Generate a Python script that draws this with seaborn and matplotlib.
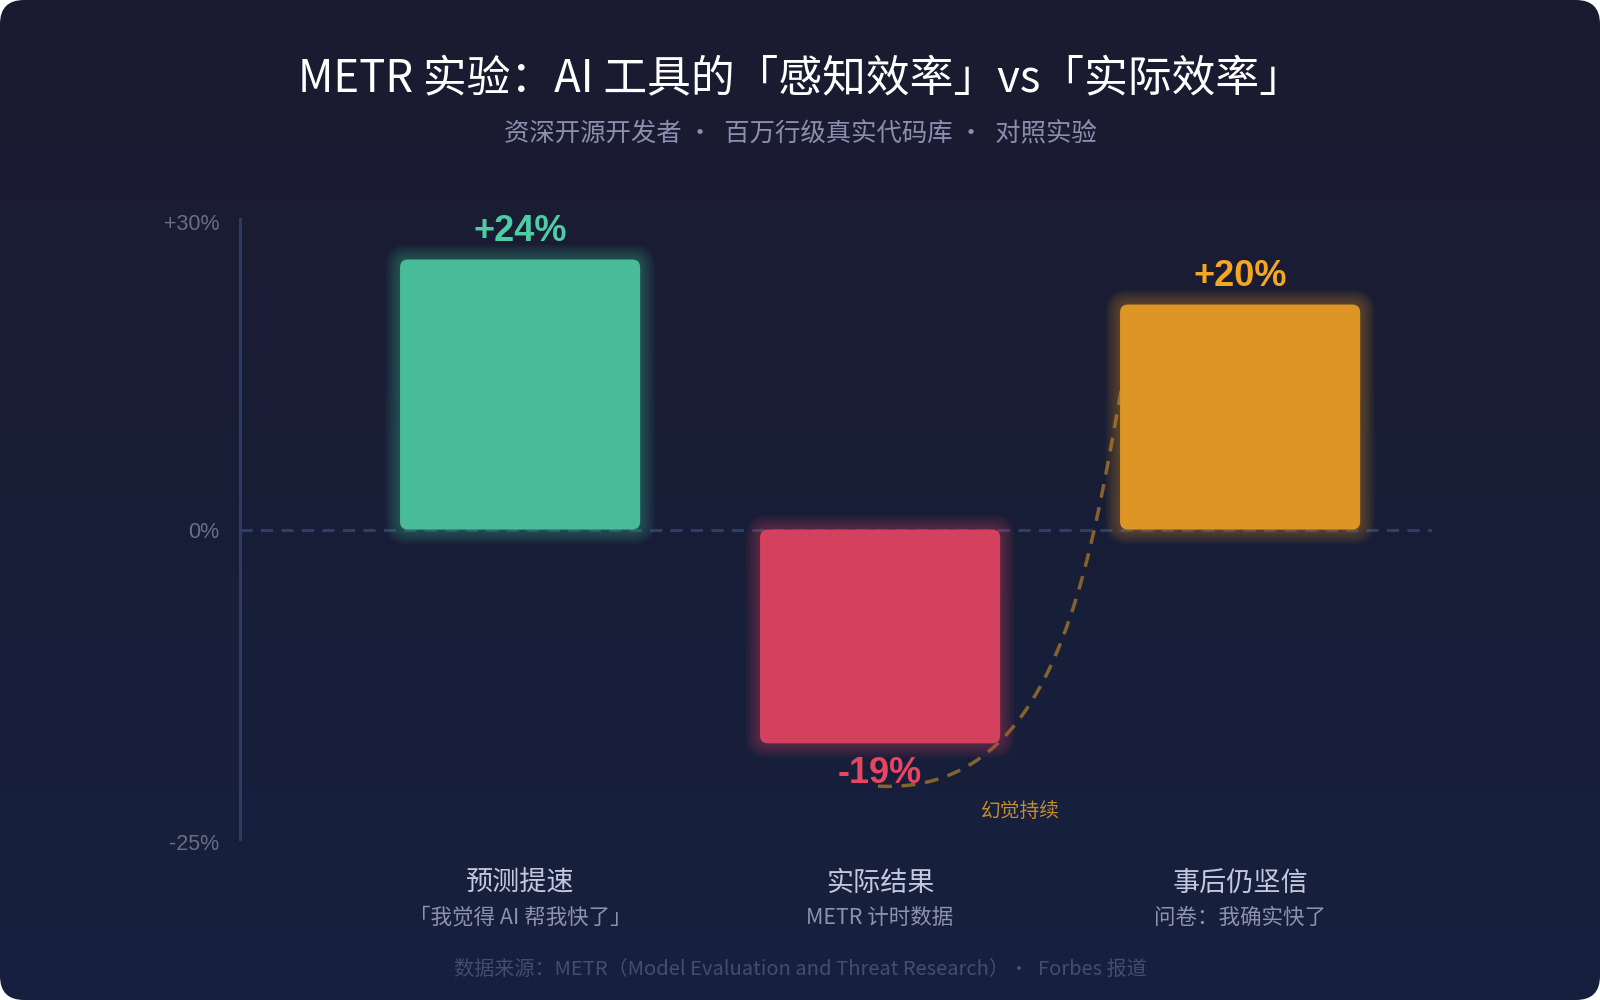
import numpy as np
import matplotlib.pyplot as plt
import seaborn as sns
from matplotlib.patches import FancyBboxPatch, BoxStyle
from matplotlib import transforms

# 数据
categories = ['预测提速', '实际结果', '事后仍坚信']
sublabels = ['「我觉得 AI 帮我快了」', 'METR 计时数据', '问卷：我确实快了']
values = [24, -19, 20]
value_labels = ['+24%', '-19%', '+20%']
ytick_labels = ['+30%', '0%', '-25%']

bar_colors = ['#48bb98', '#d4415e', '#dd9525']
text_colors = ['#4ecca3', '#e94560', '#f5a623']

title = 'METR 实验：AI 工具的「感知效率」vs「实际效率」'
subtitle = '资深开源开发者 ·  百万行级真实代码库 ·  对照实验'
footer = '数据来源：METR（Model Evaluation and Threat Research）·  Forbes 报道'
note = '幻觉持续'

sns.set_theme(style='white')
plt.rcParams['font.family'] = ['Noto Sans CJK SC', 'DejaVu Sans']

W, H = 1600, 1000
fig = plt.figure(figsize=(16, 10), dpi=100)
fig.patch.set_facecolor('white')

# 圆角渐变背景
bg = fig.add_axes([0, 0, 1, 1], zorder=-10)
bg.set_axis_off()
top = np.array([0x1b, 0x1b, 0x30]) / 255
bot = np.array([0x16, 0x20, 0x3e]) / 255
t = np.linspace(0, 1, 256)[:, None, None]
grad = top * (1 - t) + bot * t
im = bg.imshow(grad, extent=(0, 1, 0, 1), aspect='auto', origin='upper')
clip = FancyBboxPatch((0, 0), 1, 1, boxstyle=BoxStyle.Round(pad=0, rounding_size=24 / W),
                      mutation_aspect=W / H, transform=bg.transAxes, fc='none', ec='none')
bg.add_patch(clip)
im.set_clip_path(clip)
bg.set_xlim(0, 1)
bg.set_ylim(0, 1)

# 主图
ax = fig.add_axes([0.15, 0.161, 0.745, 0.62])
ax.set_facecolor('none')
sns.barplot(x=categories, y=values, hue=categories, palette=bar_colors, width=0.667,
            saturation=1, legend=False, ax=ax)

xlim = (-0.778, 2.533)
ylim = (-27.5, 27.6)
ax.set_xlim(*xlim)
ax.set_ylim(*ylim)
px_x = 0.745 * W / (xlim[1] - xlim[0])   # 每单位像素
px_y = 0.62 * H / (ylim[1] - ylim[0])
aspect = px_x / px_y

# 把柱子换成带光晕的圆角矩形
for bar, color in zip(list(ax.patches), bar_colors):
    x0, w = bar.get_x(), bar.get_width()
    y0 = min(bar.get_y(), bar.get_y() + bar.get_height())
    h = abs(bar.get_height())
    bar.remove()
    for k in range(10, 0, -1):
        p = k * 1.5
        ax.add_patch(FancyBboxPatch((x0, y0), w, h,
                                    boxstyle=BoxStyle.Round(pad=p / px_x, rounding_size=(8 + p) / px_x),
                                    mutation_aspect=aspect, fc=color, ec='none', alpha=0.04, zorder=2))
    ax.add_patch(FancyBboxPatch((x0, y0), w, h,
                                boxstyle=BoxStyle.Round(pad=0, rounding_size=8 / px_x),
                                mutation_aspect=aspect, fc=color, ec='none', zorder=3))

# 零线
ax.axhline(0, color='#2f3e62', lw=2.2, ls=(0, (4, 2.7)), zorder=1)

# 坐标轴
for s in ['top', 'right', 'bottom']:
    ax.spines[s].set_visible(False)
ax.spines['left'].set_color('#2d3b60')
ax.spines['left'].set_linewidth(2.2)
ax.set_xticks([])
ax.set_xlabel('')
ax.set_ylabel('')
ax.set_yticks([ylim[1], 0, ylim[0]])
ax.set_yticklabels(ytick_labels, fontfamily='Liberation Sans', fontsize=15.5, color='#6b6d80')
ax.tick_params(axis='y', length=0, pad=15)
shift = transforms.ScaledTranslation(0, -3.5 / 100, fig.dpi_scale_trans)
ticklabs = ax.get_yticklabels()
for lab in (ticklabs[0], ticklabs[-1]):
    lab.set_transform(lab.get_transform() + shift)

# 数值标签
for i, (v, lab, c) in enumerate(zip(values, value_labels, text_colors)):
    off = 20.5 if v > 0 else -21.5
    ax.annotate(lab, (i, v), xytext=(0, off), textcoords='offset points', ha='center', va='center',
                fontsize=26, fontweight='bold', fontfamily='Liberation Sans', color=c, zorder=6)

# 幻觉持续 虚线
p0 = np.array([0.994, values[1] - 3.8])
p1 = np.array([1.5, values[1] - 4.6])
p2 = np.array([1.583, -2.7])
p3 = np.array([1.68, values[2] * 0.71])
tt = np.linspace(0, 1, 120)[:, None]
curve = (1 - tt) ** 3 * p0 + 3 * (1 - tt) ** 2 * tt * p1 + 3 * (1 - tt) * tt ** 2 * p2 + tt ** 3 * p3
ax.plot(curve[:, 0], curve[:, 1], color='#f5a623', alpha=0.5, lw=2.5, ls=(0, (4, 2.8)), zorder=1.5)
ax.text(1.389, -25.05, note, ha='center', va='center', fontsize=14.2, color='#c58c2c', zorder=6)

# 类别标签
trans = transforms.blended_transform_factory(ax.transData, fig.transFigure)
for i, (cat, sub) in enumerate(zip(categories, sublabels)):
    ax.text(i, 1 - 883 / H, cat, transform=trans, ha='center', va='center', fontsize=19.5, color='#c5c8dc')
    ax.text(i, 1 - 918 / H, sub, transform=trans, ha='center', va='center', fontsize=15.5, color='#8e92ab')

# 标题
fig.text(0.5, 1 - 78 / H, title, ha='center', va='center', fontsize=31.5, color='white')
fig.text(0.5, 1 - 134 / H, subtitle, ha='center', va='center', fontsize=18.3, color='#8b8fae')
fig.text(0.5, 1 - 969 / H, footer, ha='center', va='center', fontsize=14.5, color='#454c6e')

fig.savefig('out.png', dpi=100, facecolor='white')
